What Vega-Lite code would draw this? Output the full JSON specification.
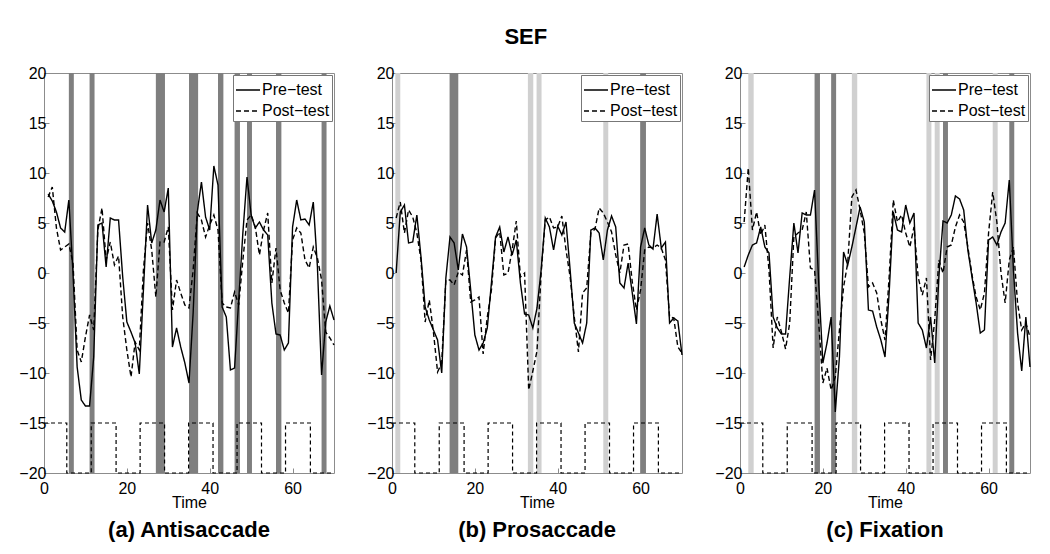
{
 "$schema": "https://vega.github.io/schema/vega-lite/v6.json",
 "background": "white",
 "padding": {"left": 18, "top": 25, "right": 5, "bottom": 5},
 "title": {"text": "SEF", "fontSize": 22, "fontWeight": "bold", "font": "Liberation Sans", "anchor": "middle", "offset": 16, "color": "black"},
 "datasets": {
  "wave": [
   {"t": 0, "v": -15}, {"t": 5.5, "v": -20}, {"t": 11.4, "v": -15}, {"t": 17.4, "v": -20}, {"t": 23.2, "v": -15}, {"t": 29.1, "v": -20}, {"t": 34.9, "v": -15}, {"t": 40.8, "v": -20}, {"t": 46.6, "v": -15}, {"t": 52.5, "v": -20}, {"t": 58.3, "v": -15}, {"t": 64.3, "v": -20}, {"t": 70, "v": -20}
  ],
  "bands": [
   {"p": 1, "a": 6.0, "b": 7.2, "k": "d"}, {"p": 1, "a": 11.0, "b": 12.2, "k": "d"}, {"p": 1, "a": 27.0, "b": 29.2, "k": "d"}, {"p": 1, "a": 35.0, "b": 37.2, "k": "d"}, {"p": 1, "a": 42.0, "b": 43.3, "k": "d"}, {"p": 1, "a": 46.0, "b": 47.3, "k": "d"}, {"p": 1, "a": 49.0, "b": 50.2, "k": "d"}, {"p": 1, "a": 56.0, "b": 57.3, "k": "d"}, {"p": 1, "a": 67.0, "b": 68.2, "k": "d"},
   {"p": 2, "a": 0.8, "b": 2.0, "k": "l"}, {"p": 2, "a": 13.9, "b": 16.0, "k": "d"}, {"p": 2, "a": 32.8, "b": 34.1, "k": "l"}, {"p": 2, "a": 34.9, "b": 36.1, "k": "l"}, {"p": 2, "a": 51.0, "b": 52.2, "k": "l"}, {"p": 2, "a": 59.9, "b": 61.3, "k": "d"},
   {"p": 3, "a": 2.0, "b": 3.3, "k": "l"}, {"p": 3, "a": 18.0, "b": 19.3, "k": "d"}, {"p": 3, "a": 22.0, "b": 23.2, "k": "d"}, {"p": 3, "a": 27.0, "b": 28.3, "k": "l"}, {"p": 3, "a": 45.0, "b": 46.2, "k": "l"}, {"p": 3, "a": 47.0, "b": 48.2, "k": "l"}, {"p": 3, "a": 49.0, "b": 50.2, "k": "d"}, {"p": 3, "a": 61.0, "b": 62.2, "k": "l"}, {"p": 3, "a": 65.0, "b": 66.2, "k": "d"}
  ],
  "lines": [
   {"p":1,"t":1,"pre":7.9,"post":7.6},{"p":1,"t":2,"pre":7.2,"post":8.6},{"p":1,"t":3,"pre":6.1,"post":4.5},{"p":1,"t":4,"pre":4.5,"post":2.3},{"p":1,"t":5,"pre":4.1,"post":2.6},{"p":1,"t":6,"pre":7.3,"post":2.9},{"p":1,"t":7,"pre":0.0,"post":1.0},{"p":1,"t":8,"pre":-9.4,"post":-7.7},{"p":1,"t":9,"pre":-12.7,"post":-8.9},{"p":1,"t":10,"pre":-13.3,"post":-6.4},
   {"p":1,"t":11,"pre":-13.3,"post":-4.2},{"p":1,"t":12,"pre":-8.4,"post":-5.7},{"p":1,"t":13,"pre":4.8,"post":4.3},{"p":1,"t":14,"pre":5.0,"post":6.5},{"p":1,"t":15,"pre":0.6,"post":1.3},{"p":1,"t":16,"pre":5.5,"post":3.1},{"p":1,"t":17,"pre":5.3,"post":0.8},{"p":1,"t":18,"pre":5.3,"post":1.7},{"p":1,"t":19,"pre":-0.4,"post":-4.4},{"p":1,"t":20,"pre":-4.9,"post":-7.7},
   {"p":1,"t":21,"pre":-5.9,"post":-10.4},{"p":1,"t":22,"pre":-7.0,"post":-6.9},{"p":1,"t":23,"pre":-10.1,"post":-7.7},{"p":1,"t":24,"pre":-1.7,"post":0.3},{"p":1,"t":25,"pre":6.8,"post":5.0},{"p":1,"t":26,"pre":3.0,"post":2.3},{"p":1,"t":27,"pre":4.3,"post":-2.4},{"p":1,"t":28,"pre":7.3,"post":3.1},{"p":1,"t":29,"pre":6.1,"post":3.1},{"p":1,"t":30,"pre":8.5,"post":4.6},
   {"p":1,"t":31,"pre":-7.4,"post":-3.7},{"p":1,"t":32,"pre":-5.5,"post":-0.7},{"p":1,"t":33,"pre":-7.4,"post":-2.0},{"p":1,"t":34,"pre":-9.0,"post":-3.2},{"p":1,"t":35,"pre":-11.0,"post":-3.5},{"p":1,"t":36,"pre":-4.0,"post":0.3},{"p":1,"t":37,"pre":6.1,"post":6.0},{"p":1,"t":38,"pre":9.1,"post":5.3},{"p":1,"t":39,"pre":5.6,"post":3.6},{"p":1,"t":40,"pre":4.3,"post":4.8},
   {"p":1,"t":41,"pre":10.7,"post":5.8},{"p":1,"t":42,"pre":8.8,"post":4.3},{"p":1,"t":43,"pre":-3.4,"post":-3.0},{"p":1,"t":44,"pre":-4.4,"post":-3.4},{"p":1,"t":45,"pre":-9.7,"post":-3.5},{"p":1,"t":46,"pre":-9.5,"post":-1.9},{"p":1,"t":47,"pre":-2.7,"post":-3.2},{"p":1,"t":48,"pre":4.0,"post":1.3},{"p":1,"t":49,"pre":9.6,"post":5.3},{"p":1,"t":50,"pre":5.8,"post":5.8},
   {"p":1,"t":51,"pre":4.5,"post":4.6},{"p":1,"t":52,"pre":5.1,"post":1.8},{"p":1,"t":53,"pre":4.3,"post":4.3},{"p":1,"t":54,"pre":3.8,"post":6.0},{"p":1,"t":55,"pre":-3.0,"post":-1.0},{"p":1,"t":56,"pre":-6.1,"post":2.5},{"p":1,"t":57,"pre":-6.2,"post":-1.7},{"p":1,"t":58,"pre":-7.7,"post":-3.0},{"p":1,"t":59,"pre":-7.0,"post":-4.0},{"p":1,"t":60,"pre":4.6,"post":3.3},
   {"p":1,"t":61,"pre":7.3,"post":4.5},{"p":1,"t":62,"pre":5.3,"post":4.0},{"p":1,"t":63,"pre":5.4,"post":1.3},{"p":1,"t":64,"pre":4.8,"post":0.5},{"p":1,"t":65,"pre":7.1,"post":2.6},{"p":1,"t":66,"pre":0.6,"post":1.5},{"p":1,"t":67,"pre":-10.2,"post":-0.7},{"p":1,"t":68,"pre":-4.9,"post":-5.9},{"p":1,"t":69,"pre":-3.3,"post":-6.5},{"p":1,"t":70,"pre":-4.7,"post":-7.2},

   {"p":2,"t":1,"pre":0.0,"post":5.5},{"p":2,"t":2,"pre":6.1,"post":7.1},{"p":2,"t":3,"pre":6.8,"post":4.0},{"p":2,"t":4,"pre":3.0,"post":6.3},{"p":2,"t":5,"pre":3.1,"post":5.6},{"p":2,"t":6,"pre":5.8,"post":4.0},{"p":2,"t":7,"pre":1.6,"post":1.3},{"p":2,"t":8,"pre":-3.4,"post":-4.9},{"p":2,"t":9,"pre":-4.7,"post":-2.7},{"p":2,"t":10,"pre":-5.7,"post":-5.9},
   {"p":2,"t":11,"pre":-6.7,"post":-9.9},{"p":2,"t":12,"pre":-10.0,"post":-9.0},{"p":2,"t":13,"pre":-0.5,"post":-0.7},{"p":2,"t":14,"pre":3.6,"post":-0.7},{"p":2,"t":15,"pre":3.0,"post":-1.2},{"p":2,"t":16,"pre":0.3,"post":0.1},{"p":2,"t":17,"pre":3.9,"post":-0.2},{"p":2,"t":18,"pre":2.6,"post":2.3},{"p":2,"t":19,"pre":-1.7,"post":-2.9},{"p":2,"t":20,"pre":-6.2,"post":-2.7},
   {"p":2,"t":21,"pre":-7.7,"post":-2.4},{"p":2,"t":22,"pre":-7.0,"post":-8.1},{"p":2,"t":23,"pre":-5.5,"post":-4.4},{"p":2,"t":24,"pre":-1.0,"post":-1.7},{"p":2,"t":25,"pre":3.6,"post":3.5},{"p":2,"t":26,"pre":4.6,"post":4.1},{"p":2,"t":27,"pre":2.1,"post":-0.2},{"p":2,"t":28,"pre":3.6,"post":0.0},{"p":2,"t":29,"pre":1.8,"post":2.3},{"p":2,"t":30,"pre":3.3,"post":5.2},
   {"p":2,"t":31,"pre":-1.0,"post":-0.4},{"p":2,"t":32,"pre":-4.1,"post":0.0},{"p":2,"t":33,"pre":-4.2,"post":-11.7},{"p":2,"t":34,"pre":-5.5,"post":-9.8},{"p":2,"t":35,"pre":-3.5,"post":-7.8},{"p":2,"t":36,"pre":0.3,"post":0.0},{"p":2,"t":37,"pre":5.5,"post":5.3},{"p":2,"t":38,"pre":4.6,"post":5.6},{"p":2,"t":39,"pre":2.3,"post":4.5},{"p":2,"t":40,"pre":4.7,"post":4.6},
   {"p":2,"t":41,"pre":3.8,"post":5.7},{"p":2,"t":42,"pre":5.1,"post":2.3},{"p":2,"t":43,"pre":0.3,"post":-0.4},{"p":2,"t":44,"pre":-5.0,"post":-4.4},{"p":2,"t":45,"pre":-6.0,"post":-7.9},{"p":2,"t":46,"pre":-7.0,"post":-2.0},{"p":2,"t":47,"pre":-5.0,"post":-1.5},{"p":2,"t":48,"pre":4.3,"post":4.0},{"p":2,"t":49,"pre":4.5,"post":4.4},{"p":2,"t":50,"pre":4.0,"post":6.5},
   {"p":2,"t":51,"pre":1.3,"post":6.0},{"p":2,"t":52,"pre":4.3,"post":5.1},{"p":2,"t":53,"pre":5.7,"post":4.1},{"p":2,"t":54,"pre":4.6,"post":1.8},{"p":2,"t":55,"pre":-1.0,"post":0.0},{"p":2,"t":56,"pre":-1.5,"post":2.8},{"p":2,"t":57,"pre":1.0,"post":2.9},{"p":2,"t":58,"pre":-2.0,"post":-0.9},{"p":2,"t":59,"pre":-5.1,"post":-3.7},{"p":2,"t":60,"pre":2.6,"post":-1.7},
   {"p":2,"t":61,"pre":4.5,"post":2.3},{"p":2,"t":62,"pre":2.8,"post":2.6},{"p":2,"t":63,"pre":2.4,"post":2.5},{"p":2,"t":64,"pre":5.9,"post":2.8},{"p":2,"t":65,"pre":2.5,"post":2.5},{"p":2,"t":66,"pre":3.1,"post":1.3},{"p":2,"t":67,"pre":-5.0,"post":-4.4},{"p":2,"t":68,"pre":-4.5,"post":-4.5},{"p":2,"t":69,"pre":-4.8,"post":-7.4},{"p":2,"t":70,"pre":-8.2,"post":-8.0},

   {"p":3,"t":1,"pre":0.6,"post":5.1},{"p":3,"t":2,"pre":1.8,"post":10.5},{"p":3,"t":3,"pre":2.8,"post":4.3},{"p":3,"t":4,"pre":3.0,"post":6.1},{"p":3,"t":5,"pre":4.6,"post":3.8},{"p":3,"t":6,"pre":2.6,"post":4.8},{"p":3,"t":7,"pre":2.0,"post":0.3},{"p":3,"t":8,"pre":-4.4,"post":-7.5},{"p":3,"t":9,"pre":-5.5,"post":-4.4},{"p":3,"t":10,"pre":-6.1,"post":-5.9},
   {"p":3,"t":11,"pre":-6.1,"post":-7.6},{"p":3,"t":12,"pre":-0.4,"post":-5.0},{"p":3,"t":13,"pre":5.0,"post":3.6},{"p":3,"t":14,"pre":2.0,"post":4.0},{"p":3,"t":15,"pre":6.0,"post":4.3},{"p":3,"t":16,"pre":5.8,"post":6.1},{"p":3,"t":17,"pre":5.8,"post":0.5},{"p":3,"t":18,"pre":8.3,"post":0.3},{"p":3,"t":19,"pre":-1.0,"post":-5.0},{"p":3,"t":20,"pre":-9.0,"post":-11.0},
   {"p":3,"t":21,"pre":-7.0,"post":-9.5},{"p":3,"t":22,"pre":-4.4,"post":-11.7},{"p":3,"t":23,"pre":-13.9,"post":-10.4},{"p":3,"t":24,"pre":-8.4,"post":-5.7},{"p":3,"t":25,"pre":2.1,"post":-1.4},{"p":3,"t":26,"pre":0.8,"post":1.0},{"p":3,"t":27,"pre":2.6,"post":7.6},{"p":3,"t":28,"pre":4.6,"post":8.3},{"p":3,"t":29,"pre":6.6,"post":6.3},{"p":3,"t":30,"pre":5.1,"post":4.0},
   {"p":3,"t":31,"pre":-3.7,"post":-1.4},{"p":3,"t":32,"pre":-3.8,"post":-1.0},{"p":3,"t":33,"pre":-5.4,"post":-2.0},{"p":3,"t":34,"pre":-6.7,"post":-4.7},{"p":3,"t":35,"pre":-8.4,"post":-6.7},{"p":3,"t":36,"pre":-2.0,"post":-0.4},{"p":3,"t":37,"pre":6.1,"post":7.3},{"p":3,"t":38,"pre":4.3,"post":5.1},{"p":3,"t":39,"pre":4.1,"post":5.8},{"p":3,"t":40,"pre":6.8,"post":4.0},
   {"p":3,"t":41,"pre":5.0,"post":2.6},{"p":3,"t":42,"pre":6.0,"post":4.6},{"p":3,"t":43,"pre":-5.0,"post":-0.4},{"p":3,"t":44,"pre":-5.7,"post":-2.2},{"p":3,"t":45,"pre":-7.5,"post":-0.5},{"p":3,"t":46,"pre":-4.4,"post":-8.7},{"p":3,"t":47,"pre":-9.0,"post":-4.7},{"p":3,"t":48,"pre":-0.4,"post":1.3},{"p":3,"t":49,"pre":5.2,"post":0.0},{"p":3,"t":50,"pre":5.0,"post":2.6},
   {"p":3,"t":51,"pre":5.8,"post":2.8},{"p":3,"t":52,"pre":7.7,"post":4.6},{"p":3,"t":53,"pre":7.4,"post":5.8},{"p":3,"t":54,"pre":6.3,"post":5.1},{"p":3,"t":55,"pre":2.3,"post":2.6},{"p":3,"t":56,"pre":-0.4,"post":-0.2},{"p":3,"t":57,"pre":-3.0,"post":-2.4},{"p":3,"t":58,"pre":-6.0,"post":-3.7},{"p":3,"t":59,"pre":-5.7,"post":-2.0},{"p":3,"t":60,"pre":3.3,"post":4.0},
   {"p":3,"t":61,"pre":3.6,"post":8.1},{"p":3,"t":62,"pre":2.8,"post":5.1},{"p":3,"t":63,"pre":4.1,"post":0.0},{"p":3,"t":64,"pre":5.0,"post":-3.0},{"p":3,"t":65,"pre":9.3,"post":1.3},{"p":3,"t":66,"pre":0.3,"post":2.6},{"p":3,"t":67,"pre":-6.0,"post":-3.0},{"p":3,"t":68,"pre":-9.8,"post":-5.7},{"p":3,"t":69,"pre":-4.4,"post":-5.0},{"p":3,"t":70,"pre":-9.4,"post":-6.4}
  ]
 },
 "spacing": 28,
 "resolve": {"legend": {"strokeDash": "independent"}},
 "hconcat": [
  {
   "width": 290, "height": 400,
   "title": {"text": "(a) Antisaccade", "orient": "bottom", "fontSize": 22, "fontWeight": "bold", "font": "Liberation Sans", "color": "black", "offset": 10},
   "layer": [
    {"data": {"name": "bands"}, "transform": [{"filter": "datum.p == 1"}], "mark": {"type": "rect"},
     "encoding": {"x": {"field": "a", "type": "quantitative", "title": "Time", "scale": {"domain": [0, 70], "nice": false}, "axis": {"values": [0, 20, 40, 60], "labelFlush": false}},
      "x2": {"field": "b"},
      "color": {"field": "k", "type": "nominal", "scale": {"domain": ["d", "l"], "range": ["#7f7f7f", "#d0d0d0"]}, "legend": null}}},
    {"data": {"name": "wave"}, "mark": {"type": "line", "interpolate": "step-after", "color": "black", "strokeDash": [4, 3], "strokeWidth": 1.2},
     "encoding": {"x": {"field": "t", "type": "quantitative", "title": "Time"}, "y": {"field": "v", "type": "quantitative", "title": null, "scale": {"domain": [-20, 20], "nice": false}, "axis": {"values": [-20, -15, -10, -5, 0, 5, 10, 15, 20]}}}},
    {"data": {"name": "lines"}, "transform": [{"filter": "datum.p == 1"}, {"fold": ["pre", "post"], "as": ["s", "v"]}], "mark": {"type": "line", "color": "black", "strokeWidth": 1.4},
     "encoding": {"x": {"field": "t", "type": "quantitative", "title": "Time"}, "y": {"field": "v", "type": "quantitative", "title": null},
      "strokeDash": {"field": "s", "type": "nominal", "scale": {"domain": ["pre", "post"], "range": [[1, 0], [5, 3]]}, "legend": {"labelExpr": "datum.value == 'pre' ? 'Pre−test' : 'Post−test'"}}}}
   ]
  },
  {
   "width": 290, "height": 400,
   "title": {"text": "(b) Prosaccade", "orient": "bottom", "fontSize": 22, "fontWeight": "bold", "font": "Liberation Sans", "color": "black", "offset": 10},
   "layer": [
    {"data": {"name": "bands"}, "transform": [{"filter": "datum.p == 2"}], "mark": {"type": "rect"},
     "encoding": {"x": {"field": "a", "type": "quantitative", "title": "Time", "scale": {"domain": [0, 70], "nice": false}, "axis": {"values": [0, 20, 40, 60], "labelFlush": false}},
      "x2": {"field": "b"},
      "color": {"field": "k", "type": "nominal", "scale": {"domain": ["d", "l"], "range": ["#7f7f7f", "#d0d0d0"]}, "legend": null}}},
    {"data": {"name": "wave"}, "mark": {"type": "line", "interpolate": "step-after", "color": "black", "strokeDash": [4, 3], "strokeWidth": 1.2},
     "encoding": {"x": {"field": "t", "type": "quantitative", "title": "Time"}, "y": {"field": "v", "type": "quantitative", "title": null, "scale": {"domain": [-20, 20], "nice": false}, "axis": {"values": [-20, -15, -10, -5, 0, 5, 10, 15, 20]}}}},
    {"data": {"name": "lines"}, "transform": [{"filter": "datum.p == 2"}, {"fold": ["pre", "post"], "as": ["s", "v"]}], "mark": {"type": "line", "color": "black", "strokeWidth": 1.4},
     "encoding": {"x": {"field": "t", "type": "quantitative", "title": "Time"}, "y": {"field": "v", "type": "quantitative", "title": null},
      "strokeDash": {"field": "s", "type": "nominal", "scale": {"domain": ["pre", "post"], "range": [[1, 0], [5, 3]]}, "legend": {"labelExpr": "datum.value == 'pre' ? 'Pre−test' : 'Post−test'"}}}}
   ]
  },
  {
   "width": 290, "height": 400,
   "title": {"text": "(c) Fixation", "orient": "bottom", "fontSize": 22, "fontWeight": "bold", "font": "Liberation Sans", "color": "black", "offset": 10},
   "layer": [
    {"data": {"name": "bands"}, "transform": [{"filter": "datum.p == 3"}], "mark": {"type": "rect"},
     "encoding": {"x": {"field": "a", "type": "quantitative", "title": "Time", "scale": {"domain": [0, 70], "nice": false}, "axis": {"values": [0, 20, 40, 60], "labelFlush": false}},
      "x2": {"field": "b"},
      "color": {"field": "k", "type": "nominal", "scale": {"domain": ["d", "l"], "range": ["#7f7f7f", "#d0d0d0"]}, "legend": null}}},
    {"data": {"name": "wave"}, "mark": {"type": "line", "interpolate": "step-after", "color": "black", "strokeDash": [4, 3], "strokeWidth": 1.2},
     "encoding": {"x": {"field": "t", "type": "quantitative", "title": "Time"}, "y": {"field": "v", "type": "quantitative", "title": null, "scale": {"domain": [-20, 20], "nice": false}, "axis": {"values": [-20, -15, -10, -5, 0, 5, 10, 15, 20]}}}},
    {"data": {"name": "lines"}, "transform": [{"filter": "datum.p == 3"}, {"fold": ["pre", "post"], "as": ["s", "v"]}], "mark": {"type": "line", "color": "black", "strokeWidth": 1.4},
     "encoding": {"x": {"field": "t", "type": "quantitative", "title": "Time"}, "y": {"field": "v", "type": "quantitative", "title": null},
      "strokeDash": {"field": "s", "type": "nominal", "scale": {"domain": ["pre", "post"], "range": [[1, 0], [5, 3]]}, "legend": {"labelExpr": "datum.value == 'pre' ? 'Pre−test' : 'Post−test'"}}}}
   ]
  }
 ],
 "config": {
  "font": "Liberation Sans",
  "view": {"stroke": "#8c8c8c", "strokeWidth": 1},
  "axis": {"grid": false, "domain": false, "labelFont": "Liberation Sans", "labelFontSize": 16, "labelColor": "black", "titleFont": "Liberation Sans", "titleFontSize": 16, "titleFontWeight": "normal", "titleColor": "black", "tickColor": "#8c8c8c", "tickSize": -5, "labelPadding": 3, "labelFlush": false},
  "axisX": {"labelPadding": 12, "titlePadding": -2},
  "title": {"font": "Liberation Sans", "color": "black"},
  "legend": {"orient": "top-right", "offset": 2, "title": null, "symbolType": "stroke", "symbolSize": 576, "symbolStrokeWidth": 1.3, "symbolStrokeColor": "black", "labelFont": "Liberation Sans", "labelFontSize": 16, "labelColor": "black", "strokeColor": "#777", "fillColor": "white", "padding": 2, "rowPadding": -6, "labelOffset": 1},
  "concat": {"spacing": 28}
 }
}
